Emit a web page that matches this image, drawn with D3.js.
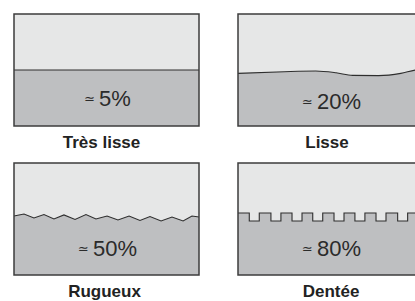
<!DOCTYPE html>
<html>
<head>
<meta charset="utf-8">
<script src="https://cdn.jsdelivr.net/npm/d3@7"></script>
<style>
  body { margin: 0; background: #fff; }
  svg { display: block; }
</style>
</head>
<body>
<script>
// surface types, contact share, interface profile (x,y in % of panel)
var labels   = ["Très lisse", "Lisse", "Rugueux", "Dentée"];
var percents = [5, 20, 50, 80];

var smoothProfile = [[0, 50], [100, 50]];
var waveProfile = [[0, 53], [25, 51.5], [42, 50.9], [53, 52.5], [62, 54.8],
                   [76, 55], [88, 53], [96, 50], [100, 49.3]];
var roughProfile = [[0, 47.3], [5.4, 45.5], [10.8, 49.1], [16.2, 46], [21.6, 50],
                    [27, 46.4], [33, 50.4], [38.9, 46], [44.3, 50], [50.3, 47.3],
                    [56.2, 50.9], [62.2, 47.3], [68.1, 51.3], [73.5, 47.8], [79.5, 51.8],
                    [85.4, 48.2], [91.4, 51.8], [96.2, 47.3], [100, 48.2]];
// toothed: notch starts (% of width), notch width, top & bottom level
var notchStarts = [6.1, 17.8, 29.2, 40.4, 51.9, 63.2, 74.6, 86.3, 97.8];
var notchWidth = 5.4;
var toothTop = 44.6, toothBottom = 51.8;

function toothProfile() {
  var pts = [[0, toothTop]];
  notchStarts.forEach(function (s) {
    var e = Math.min(s + notchWidth, 100);
    pts.push([s, toothTop], [s, toothBottom], [e, toothBottom], [e, toothTop]);
  });
  pts.push([100, toothTop]);
  return pts;
}

var profiles = [smoothProfile, waveProfile, roughProfile, toothProfile()];
var curves = [d3.curveLinear, d3.curveMonotoneX, d3.curveLinear, d3.curveLinear];

var width = 415, height = 301;
var panelW = 185, panelH = 112;
var origins = [[14, 14], [238, 14], [14, 163], [238, 163]];
var labelX = [101.5, 327, 104.5, 331];

var svg = d3.select("body").append("svg")
  .attr("width", width)
  .attr("height", height);

labels.forEach(function (name, i) {
  var o = origins[i];
  var x = d3.scaleLinear().domain([0, 100]).range([o[0], o[0] + panelW]);
  var y = d3.scaleLinear().domain([0, 100]).range([o[1], o[1] + panelH]);
  var prof = profiles[i];

  var g = svg.append("g");

  g.append("rect")
    .attr("x", x(0)).attr("y", y(0))
    .attr("width", x(100) - x(0)).attr("height", y(100) - y(0))
    .attr("fill", "#e6e7e7");

  var area = d3.area()
    .x(function (d) { return x(d[0]); })
    .y0(y(100))
    .y1(function (d) { return y(d[1]); })
    .curve(curves[i]);

  g.append("path")
    .datum(prof)
    .attr("d", area)
    .attr("fill", "#bebfc1");

  var line = d3.line()
    .x(function (d) { return x(d[0]); })
    .y(function (d) { return y(d[1]); })
    .curve(curves[i]);

  g.append("path")
    .datum(prof)
    .attr("d", line)
    .attr("fill", "none")
    .attr("stroke", "#2e2e2e")
    .attr("stroke-width", 1.1);

  g.append("rect")
    .attr("x", x(0)).attr("y", y(0))
    .attr("width", x(100) - x(0)).attr("height", y(100) - y(0))
    .attr("fill", "none")
    .attr("stroke", "#3c3c3c")
    .attr("stroke-width", 1.5);

  // percent label centered in the dark part
  var lowest = d3.max(prof, function (d) { return d[1]; });
  var mid = (y(lowest) + y(100)) / 2;
  var t = g.append("text")
    .attr("x", (x(0) + x(100)) / 2 + 1)
    .attr("y", mid + 8)
    .attr("text-anchor", "middle")
    .attr("fill", "#2b2b2b")
    .style("font-family", "'Liberation Sans', Arial, sans-serif")
    .style("font-size", "22px");
  t.append("tspan")
    .style("font-family", "'DejaVu Sans', sans-serif")
    .style("font-size", "13px")
    .attr("dy", -3)
    .text("\u2243");
  t.append("tspan")
    .attr("dx", 4)
    .attr("dy", 3)
    .text(percents[i] + "%");

  g.append("text")
    .attr("x", labelX[i])
    .attr("y", y(100) + 22)
    .attr("text-anchor", "middle")
    .attr("fill", "#222")
    .style("font-family", "'Liberation Sans', Arial, sans-serif")
    .style("font-size", "17px")
    .style("font-weight", "bold")
    .text(name);
});
</script>
</body>
</html>
